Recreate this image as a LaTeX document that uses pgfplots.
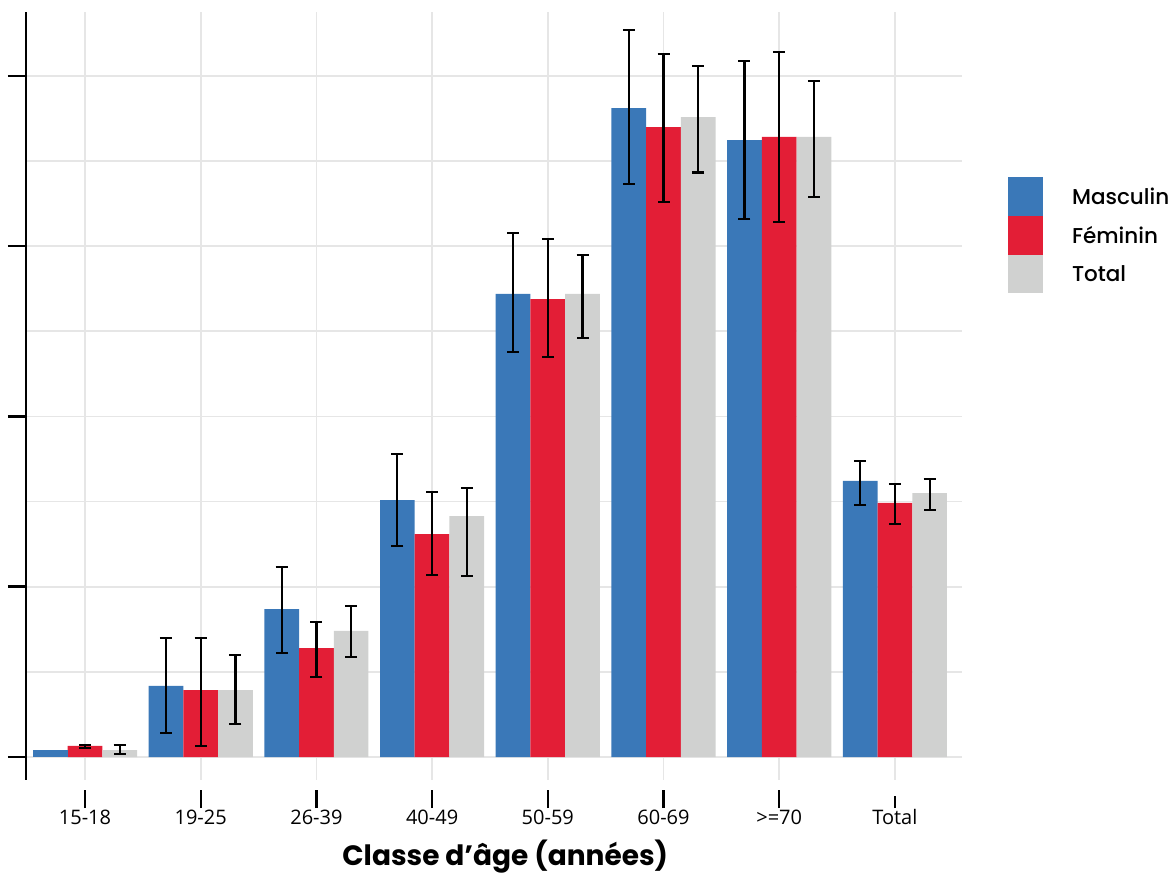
\documentclass[border=0pt]{standalone}
\usepackage{fontspec}
\setmainfont{Open Sans}
\newfontfamily\pop{Poppins}
\newfontfamily\popm{Poppins Medium}
\usepackage{pgfplots}
\pgfplotsset{compat=1.18}
\usepackage{pgfplotstable}
\definecolor{cblue}{HTML}{3A78B8}
\definecolor{cred}{HTML}{E31E36}
\definecolor{cgrey}{HTML}{D0D1D0}
\definecolor{gridc}{HTML}{E6E6E6}

\pgfplotstableread{
x y ep em
1 4.17 2.80 2.76
2 8.69 2.47 2.58
3 15.09 2.70 2.70
4 27.19 3.58 3.41
5 38.11 4.58 4.48
6 36.23 4.66 4.64
7 16.21 1.17 1.39
}\masc
\pgfplotstableread{
x y
0 0.41
}\mascA
\pgfplotstableread{
x y ep em
0 0.65 0.07 0.10
1 3.93 3.04 3.28
2 6.40 1.53 1.70
3 13.09 2.47 2.40
4 26.89 3.53 3.40
5 36.99 4.27 4.42
6 36.41 4.99 4.98
7 14.93 1.10 1.23
}\fem
\pgfplotstableread{
x y ep em
0 0.41 0.29 0.23
1 3.93 2.06 2.01
2 7.40 1.47 1.53
3 14.15 1.65 3.52
4 27.19 2.29 2.59
5 37.58 3.01 3.25
6 36.41 3.29 3.51
7 15.50 0.82 0.98
}\tot

\begin{document}
\begin{tikzpicture}
\path[use as bounding box] (0,0) rectangle (1176pt,873pt);
\begin{axis}[
  at={(26pt,93pt)}, anchor=south west,
  scale only axis, width=936pt, height=768pt,
  xmin=-0.51, xmax=7.58, ymin=-1.35, ymax=43.75,
  axis x line*=bottom, axis y line*=left,
  x axis line style={draw=none},
  y axis line style={line width=2.5pt, black},
  xtick={0,...,7},
  xticklabels={15-18,19-25,26-39,40-49,50-59,60-69,{>=70},Total},
  ytick={0,10,20,30,40}, minor ytick={5,15,25,35}, yticklabels={},
  grid=both,
  major grid style={gridc, line width=1.6pt},
  minor grid style={gridc, line width=1.6pt},
  tick align=outside, major tick length=18pt, minor tick length=0pt,
  ytick style={black, line width=2.5pt},
  xtick style={black, line width=2.2pt, yshift=-10pt, shorten >=6pt},
  xticklabel style={font=\fontsize{20}{20}\selectfont, yshift=-8pt},
  xlabel={Classe d’âge (années)},
  xlabel style={at={(axis description cs:0.512,0)}, anchor=base, yshift=-85pt,
    font=\pop\bfseries\fontsize{28}{28}\selectfont},
  legend style={at={(axis description cs:1.049,0.785)}, anchor=north west,
    draw=none, fill=none, font=\popm\fontsize{21.5}{21.5}\selectfont,
    row sep=0pt, column sep=29pt, inner sep=0pt, nodes={inner sep=0pt},
    cells={anchor=west}},
  legend image code/.code={\fill[#1] (0pt,-19.35pt) rectangle (35pt,19.35pt);},
]
\addplot[ybar, fill=cblue, draw=none, bar width=0.3, bar shift=-0.3]
  table[x=x, y=y]{\masc};
\addlegendentry{Masculin}
\addplot[ybar, fill=cred, draw=none, bar width=0.3, bar shift=0]
  table[x=x, y=y]{\fem};
\addlegendentry{Féminin}
\addplot[ybar, fill=cgrey, draw=none, bar width=0.3, bar shift=0.3]
  table[x=x, y=y]{\tot};
\addlegendentry{Total}
\addplot[ybar, fill=cblue, draw=none, bar width=0.3, bar shift=-0.3, forget plot]
  table[x=x, y=y]{\mascA};
% error bars
\pgfplotsset{ebar/.style={forget plot, draw=none, mark=none,
  error bars/.cd, y dir=both, y explicit,
  error bar style={draw=black, line width=2.2pt},
  error mark=-, error mark options={rotate=90, mark size=6pt, line width=2.2pt, draw=black}}}
\addplot[ebar] table[x expr=\thisrow{x}-0.3, y=y, y error plus=ep, y error minus=em]{\masc};
\addplot[ebar] table[x=x, y=y, y error plus=ep, y error minus=em]{\fem};
\addplot[ebar] table[x expr=\thisrow{x}+0.3, y=y, y error plus=ep, y error minus=em]{\tot};
\end{axis}
\end{tikzpicture}
\end{document}
